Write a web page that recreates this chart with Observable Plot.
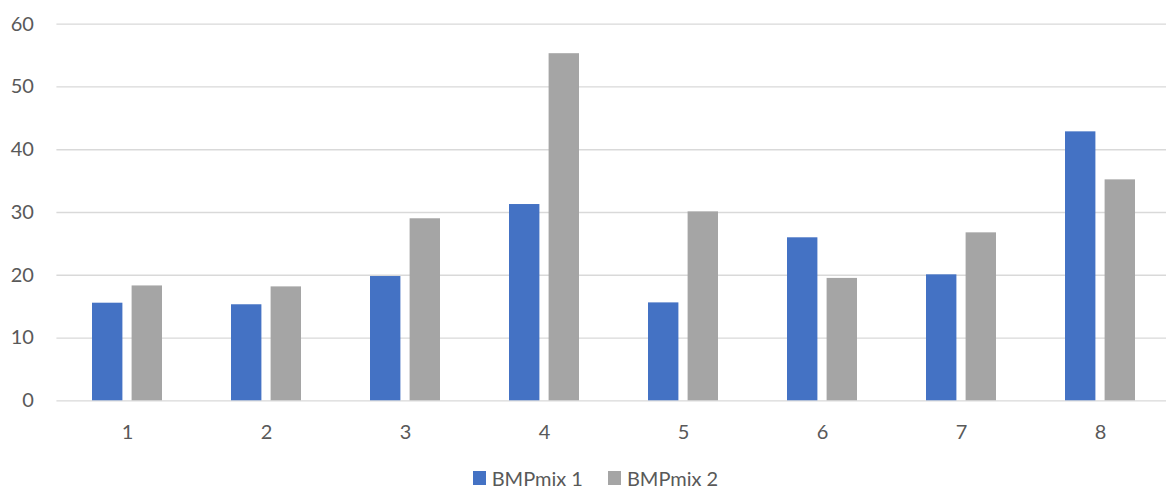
<!DOCTYPE html>
<html>
<head>
<meta charset="utf-8">
<script src="https://cdn.jsdelivr.net/npm/d3@7"></script>
<script src="https://cdn.jsdelivr.net/npm/@observablehq/plot@0.6"></script>
<style>
  body { margin: 0; background: #fff; font-family: Lato, "Open Sans", sans-serif; }
  #chart svg { display: block; }
  .legend { position: relative; height: 36px; width: 1166px; }
  .legend .items { position: absolute; left: 472.7px; top: 0; height: 36px; display: flex; align-items: center; }
  .legend .item { display: flex; align-items: center; margin-right: 25px; color: #595959; font-size: 20px; }
  .legend .sw { width: 13.3px; height: 13.3px; margin-right: 5.7px; }
</style>
</head>
<body>
<div id="chart"></div>
<div class="legend"><div class="items" id="legend"></div></div>
<script>
const categories = ["1", "2", "3", "4", "5", "6", "7", "8"];
const bmpmix1 = [15.55, 15.3, 19.8, 31.27, 15.6, 25.97, 20.07, 42.85];
const bmpmix2 = [18.3, 18.15, 29.0, 55.3, 30.1, 19.5, 26.76, 35.2];
const seriesNames = ["BMPmix 1", "BMPmix 2"];
const seriesColors = ["#4472C4", "#A5A5A5"];
const yTicks = [0, 10, 20, 30, 40, 50, 60];

const rows1 = categories.map((c, i) => ({cat: c, value: bmpmix1[i]}));
const rows2 = categories.map((c, i) => ({cat: c, value: bmpmix2[i]}));

const chart = Plot.plot({
  width: 1166,
  height: 460,
  marginLeft: 56.4,
  marginRight: 0,
  marginTop: 23.7,
  marginBottom: 59.7,
  style: {fontFamily: "Lato, 'Open Sans', sans-serif", fontSize: "20px", color: "#595959", background: "#fff"},
  x: {domain: categories, range: [56.4, 1170.8], paddingInner: 0.493, paddingOuter: 0.2465, label: null, tickSize: 0, tickPadding: 24},
  y: {domain: [0, 60], ticks: yTicks, label: null, tickSize: 0, tickPadding: 23},
  marks: [
    Plot.ruleY(yTicks, {stroke: "#D9D9D9", strokeWidth: 1.3}),
    Plot.barY(rows1, {x: "cat", y: "value", fill: seriesColors[0], insetRight: 39.6}),
    Plot.barY(rows2, {x: "cat", y: "value", fill: seriesColors[1], insetLeft: 39.6})
  ]
});
document.getElementById("chart").appendChild(chart);

const leg = document.getElementById("legend");
seriesNames.forEach((name, i) => {
  const item = document.createElement("div");
  item.className = "item";
  const sw = document.createElement("div");
  sw.className = "sw";
  sw.style.background = seriesColors[i];
  const t = document.createElement("span");
  t.textContent = name;
  item.appendChild(sw);
  item.appendChild(t);
  leg.appendChild(item);
});
</script>
</body>
</html>
